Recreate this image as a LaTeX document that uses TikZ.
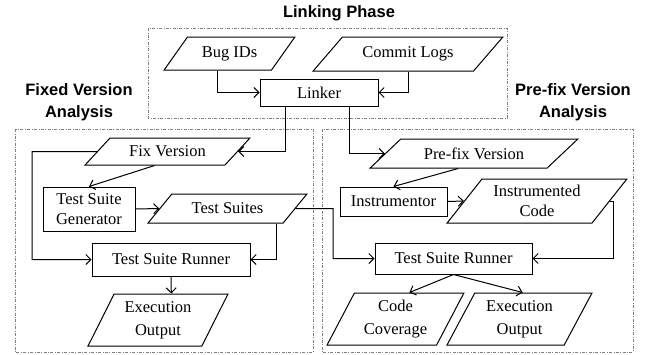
\documentclass[tikz,border=0pt]{standalone}
\usepackage{fontspec}
\setmainfont{Liberation Serif}
\setsansfont{Liberation Sans}
\usetikzlibrary{shapes.geometric,arrows.meta}

\tikzset{every picture/.style={line width=1pt}}
\tikzset{
  proc/.style={draw, fill=white, align=center, inner sep=2pt},
  data/.style={trapezium, draw, fill=white, align=center, inner sep=2pt,
    trapezium stretches=true, trapezium left angle=#1, trapezium right angle={180-#1}},
  arr/.style={-{Straight Barb[length=5pt,width=10pt]}},
  phase/.style={gray, line width=0.6pt, dash pattern=on 3pt off 1.5pt on 0.8pt off 1.5pt},
  title/.style={font=\sffamily\bfseries\fontsize{16.5}{22}\selectfont, align=center},
  tall/.style={font=\fontsize{16.5}{23}\selectfont}
}

\begin{document}
\begin{tikzpicture}[x=1pt,y=1pt,yscale=-1,xscale=1,font=\fontsize{16.5}{20}\selectfont]
\useasboundingbox (0,0) rectangle (660,354);

%Shape: Rectangle
\draw[phase] (148,28) rectangle (507,118);
%Shape: Rectangle
\draw[phase] (15,129) rectangle (313,352);
%Shape: Rectangle
\draw[phase] (322,129) rectangle (633,352);

% Text Node
\draw (339,13) node [title] (linkT) {Linking Phase};
% Text Node
\draw (79,102) node [title] (fixT) {Fixed Version\\Analysis};
% Text Node
\draw (573,102) node [title] (preT) {Pre-fix Version\\Analysis};

%Shape: Parallelogram
\draw (229.5,53.5) node [data=48, minimum width=131, minimum height=33] (bug) {Bug IDs};
%Shape: Parallelogram
\draw (408,54) node [data=41, minimum width=190, minimum height=34] (commit) {Commit Logs};
%Flowchart: Process
\draw (319,92.5) node [proc, minimum width=118, minimum height=27] (linker) {Linker};

%Shape: Parallelogram
\draw (167.5,151.5) node [data=41, minimum width=165, minimum height=27] (fixv) {Fix Version};
%Flowchart: Process
\draw (89,209) node [proc, minimum width=92, minimum height=44] (gen) {Test Suite\\Generator};
%Shape: Parallelogram
\draw (227.5,208.5) node [data=43, minimum width=159, minimum height=29] (suites) {Test Suites};
%Flowchart: Process
\draw (171,259.5) node [proc, minimum width=158, minimum height=33] (runL) {Test Suite Runner};
%Shape: Parallelogram
\draw (158,320) node [data=63, tall, minimum width=140, minimum height=52] (execL) {Execution\\Output};

%Shape: Parallelogram
\draw (474,153.5) node [data=36, minimum width=208, minimum height=29] (prefix) {Pre-fix Version};
%Flowchart: Process
\draw (393.5,201.5) node [proc, minimum width=107, minimum height=29] (instr) {Instrumentor};
%Shape: Parallelogram
\draw (537,201) node [data=51, minimum width=180, minimum height=44] (icode) {Instrumented\\Code};
%Flowchart: Process
\draw (453.5,258.5) node [proc, minimum width=157, minimum height=31] (runR) {Test Suite Runner};
%Shape: Parallelogram
\draw (395.5,319) node [data=62, tall, minimum width=137, minimum height=52] (cover) {Code\\Coverage};
%Shape: Parallelogram
\draw (519.5,319) node [data=62, tall, minimum width=145, minimum height=52] (execR) {Execution\\Output};

\coordinate (fixl) at (32,151.5);
\coordinate (cross) at (333,208.5);

%Straight Lines
\draw[arr] (bug.bottom side) |- (linker.west);
\draw[arr] (commit.center |- commit.bottom side) |- (linker.east);
\draw[arr] ([xshift=-34]linker.south) |- (fixv.east);
\draw[arr] ([xshift=30]linker.south) |- (prefix.west);
\draw[arr] (fixv.west) -- (fixl) |- (runL.west);
\draw[arr] (fixv.bottom side) -- (gen.north);
\draw[arr] (gen.east) -- (suites.west);
\draw[arr] ([xshift=-7]suites.bottom right corner) |- (runL.east);
\draw[arr] (suites.east) -- (cross) |- (runR.west);
\draw[arr] (runL.south) -- (execL.top side);
\draw[arr] (prefix.bottom side) -- (instr.north);
\draw[arr] (instr.east) -- (icode.west);
\draw[arr] (icode.east) -- ([xshift=3]icode.east) |- (runR.east);
\draw[arr] (runR.south) -- (cover.top side);
\draw[arr] (runR.south) -- ([xshift=-11]execR.top side);

\end{tikzpicture}
\end{document}
